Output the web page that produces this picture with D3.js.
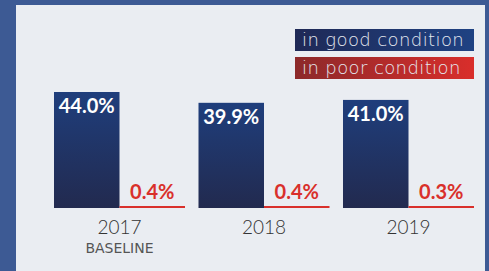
<!doctype html>
<html lang="en">
   <head>
      <meta charset="utf-8">
      <title>Condition 2017-2019</title>
      <script src="https://d3js.org/d3.v7.min.js"></script>
      <style>
         body { margin: 0; background: #3d5a94; }
         svg { display: block; }
      </style>
   </head>
   <body>
      <svg id="chart" width="489" height="271"></svg>
      <script>
      // values
      var years = ["2017", "2018", "2019"];
      var subLabels = ["BASELINE", "", ""];
      var series = ["good", "poor"];
      var seriesNames = ["in good condition", "in poor condition"];
      var goodValues = [44.0, 39.9, 41.0];
      var poorValues = [0.4, 0.4, 0.3];

      const svg = d3.select("#chart");
      const defs = svg.append("defs");

      // vertical gradient for the blue bars
      const barGrad = defs.append("linearGradient")
        .attr("id", "barGrad").attr("x1", 0).attr("y1", 0).attr("x2", 0).attr("y2", 1);
      barGrad.append("stop").attr("offset", "0%").attr("stop-color", "#1f3e7c");
      barGrad.append("stop").attr("offset", "100%").attr("stop-color", "#222a4f");

      // horizontal gradients for the legend boxes
      function hGrad(id, c0, c1) {
        const g = defs.append("linearGradient").attr("id", id)
          .attr("x1", 0).attr("y1", 0).attr("x2", 1).attr("y2", 0);
        g.append("stop").attr("offset", "0%").attr("stop-color", c0);
        g.append("stop").attr("offset", "100%").attr("stop-color", c1);
      }
      hGrad("legGood", "#1f2956", "#1f4283");
      hGrad("legPoor", "#8c292a", "#d92e2b");

      // panel
      svg.append("rect").attr("x", 16).attr("y", 5).attr("width", 469).attr("height", 266)
        .attr("fill", "#eaedf2");

      const base = 208;
      const y = d3.scaleLinear().domain([0, 44]).range([base, 92]);
      const x = d3.scaleBand().domain(years).range([54, 474]).paddingInner(0.0934).paddingOuter(0);
      const xs = d3.scaleBand().domain(series).range([0, x.bandwidth()]);

      const rows = years.map((yr, i) => ({ year: yr, sub: subLabels[i], good: goodValues[i], poor: poorValues[i] }));

      const group = svg.selectAll(".grp")
        .data(rows)
        .enter().append("g")
        .attr("class", "grp")
        .attr("transform", d => `translate(${x(d.year)},0)`);

      // good bars
      group.append("rect")
        .attr("x", xs("good"))
        .attr("y", d => y(d.good))
        .attr("width", xs.bandwidth())
        .attr("height", d => base - y(d.good))
        .attr("fill", "url(#barGrad)");

      group.append("text")
        .attr("x", xs("good") + xs.bandwidth() / 2)
        .attr("y", d => y(d.good) + 21)
        .attr("text-anchor", "middle")
        .attr("font-family", "Lato, sans-serif")
        .attr("font-weight", 700)
        .attr("font-size", 20)
        .attr("fill", "#ffffff")
        .text(d => d.good.toFixed(1) + "%");

      // poor bars (tiny, keep a visible line)
      group.append("rect")
        .attr("x", xs("poor"))
        .attr("y", d => Math.min(y(d.poor), base - 2))
        .attr("width", xs.bandwidth())
        .attr("height", d => Math.max(base - y(d.poor), 2))
        .attr("fill", "#d9302b");

      group.append("text")
        .attr("x", xs("poor") + xs.bandwidth() / 2)
        .attr("y", 199)
        .attr("text-anchor", "middle")
        .attr("font-family", "Lato, sans-serif")
        .attr("font-weight", 700)
        .attr("font-size", 20)
        .attr("fill", "#d9302b")
        .text(d => d.poor.toFixed(1) + "%");

      // year labels
      group.append("text")
        .attr("x", x.bandwidth() / 2)
        .attr("y", 234)
        .attr("text-anchor", "middle")
        .attr("font-family", "Lato, sans-serif")
        .attr("font-weight", 300)
        .attr("font-size", 19)
        .attr("fill", "#333333")
        .text(d => d.year);

      group.append("text")
        .attr("x", x.bandwidth() / 2)
        .attr("y", 253)
        .attr("text-anchor", "middle")
        .attr("font-family", "'DejaVu Sans', sans-serif")
        .attr("font-size", 14)
        .attr("fill", "#555555")
        .text(d => d.sub);

      // legend
      const legend = svg.selectAll(".leg")
        .data(seriesNames)
        .enter().append("g")
        .attr("class", "leg")
        .attr("transform", (d, i) => `translate(295,${29 + i * 28})`);

      legend.append("rect")
        .attr("width", 179).attr("height", 22)
        .attr("fill", (d, i) => i === 0 ? "url(#legGood)" : "url(#legPoor)");

      legend.append("text")
        .attr("x", 7).attr("y", 16.5)
        .attr("font-family", "'DejaVu Sans', sans-serif")
        .attr("font-weight", 200)
        .attr("font-size", 18)
        .attr("letter-spacing", 0.4)
        .attr("fill", "#e4e7ef")
        .text(d => d);
      </script>
   </body>
</html>
